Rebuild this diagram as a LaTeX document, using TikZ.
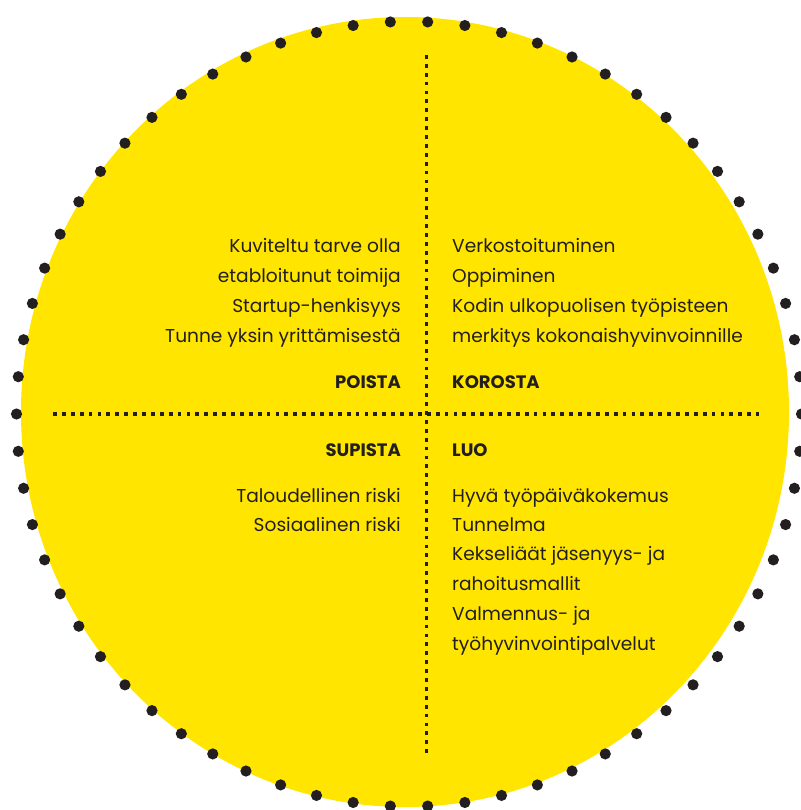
\documentclass[tikz,border=0pt]{standalone}
\usepackage{fontspec}
\setmainfont{Poppins}
\definecolor{ylw}{HTML}{FFE500}
\definecolor{ink}{HTML}{231F20}
\begin{document}
\begin{tikzpicture}[x=1pt,y=-1pt,
  txt/.style={font=\fontsize{18.6}{30}\selectfont, text=ink, inner sep=0pt},
  lft/.style={txt, anchor=base east},
  rgt/.style={txt, anchor=base west},
  headl/.style={lft, font=\fontsize{18}{30}\selectfont\bfseries},
  headr/.style={rgt, font=\fontsize{18}{30}\selectfont\bfseries},
  sepline/.style={draw=ink, line width=3.8pt, dash pattern=on 3.8pt off 5.1pt}]
\useasboundingbox (0,0) rectangle (800,810);
% yellow disc
\fill[ylw] (405,412) ellipse [x radius=384, y radius=395];
% dotted ring
\foreach \i in {0,...,65}
  \fill[ink] ({409+392.5*cos(\i*5.454545)},{414+392.5*sin(\i*5.454545)}) circle (5.6);
% quadrant separators
\coordinate (vtop) at (426.5,55);
\coordinate (vbot) at (426.5,758);
\coordinate (hl) at (53,414);
\coordinate (hr) at (759,414);
\draw[sepline] (vtop) -- (vbot);
\draw[sepline] (hl) -- (hr);
% top left
\node[lft] (a1) at (401,252) {Kuviteltu tarve olla};
\node[lft] (a2) at (401,282) {etabloitunut toimija};
\node[lft] (a3) at (401,312) {Startup-henkisyys};
\node[lft] (a4) at (401,342) {Tunne yksin yrittämisestä};
\node[headl] (poista) at (401,388) {POISTA};
% top right
\node[rgt] (b1) at (452,252) {Verkostoituminen};
\node[rgt] (b2) at (452,282) {Oppiminen};
\node[rgt] (b3) at (452,312) {Kodin ulkopuolisen työpisteen};
\node[rgt] (b4) at (452,342) {merkitys kokonaishyvinvoinnille};
\node[headr] (korosta) at (452,388) {KOROSTA};
% bottom left
\node[headl] (supista) at (401,456) {SUPISTA};
\node[lft] (c1) at (401,502) {Taloudellinen riski};
\node[lft] (c2) at (401,531) {Sosiaalinen riski};
% bottom right
\node[headr] (luo) at (452,456) {LUO};
\node[rgt] (d1) at (452,502) {Hyvä työpäiväkokemus};
\node[rgt] (d2) at (452,531) {Tunnelma};
\node[rgt] (d3) at (452,560) {Kekseliäät jäsenyys- ja};
\node[rgt] (d4) at (452,590) {rahoitusmallit};
\node[rgt] (d5) at (452,620) {Valmennus- ja};
\node[rgt] (d6) at (452,650) {työhyvinvointipalvelut};
\end{tikzpicture}
\end{document}
